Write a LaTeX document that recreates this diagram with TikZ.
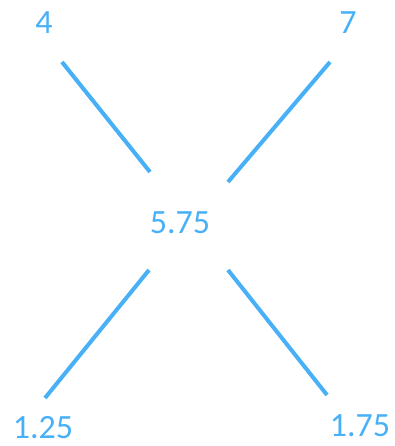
\documentclass[tikz,border=0pt]{standalone}
\usepackage{fontspec}
\setmainfont{Carlito}
\definecolor{lblue}{RGB}{72,176,247}
\begin{document}
\begin{tikzpicture}[x=1pt,y=-1pt,
  num/.style={text=lblue,inner sep=0pt,font=\fontsize{34}{34}\selectfont},
  conn/.style={draw=lblue,line width=4pt}]
\useasboundingbox (0,0) rectangle (394,446);
\node[num] (n4) at (44,23) {4};
\node[num] (n7) at (348,23) {7};
\node[num] (c) at (180,223) {5.75};
\node[num] (b1) at (43,428) {1.25};
\node[num] (b2) at (360,426) {1.75};
\coordinate (a1) at (62,62);
\coordinate (a2) at (150,172);
\coordinate (a3) at (330,62);
\coordinate (a4) at (228,182);
\coordinate (a5) at (149,270);
\coordinate (a6) at (45,398);
\coordinate (a7) at (228,270);
\coordinate (a8) at (327,395);
\draw[conn] (a1) -- (a2);
\draw[conn] (a3) -- (a4);
\draw[conn] (a5) -- (a6);
\draw[conn] (a7) -- (a8);
\end{tikzpicture}
\end{document}
